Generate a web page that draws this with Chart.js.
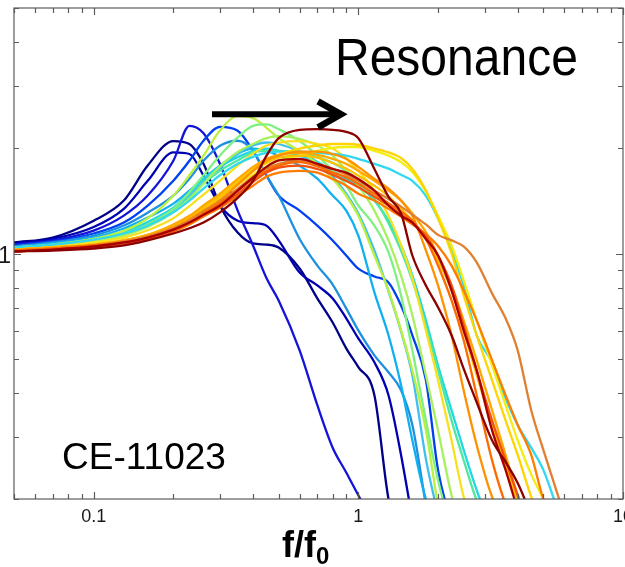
<!DOCTYPE html>
<html>
<head>
<meta charset="utf-8">
<script src="https://cdn.jsdelivr.net/npm/chart.js@4.4.1/dist/chart.umd.min.js"></script>
<style>
  html, body { margin: 0; padding: 0; background: #fff; }
  canvas { display: block; }
</style>
</head>
<body>
<canvas id="chart" width="625" height="567"></canvas>
<script>
// Normalised frequency f/f0 shared by every transfer curve
const freq = [0.05, 0.07, 0.1, 0.13, 0.16, 0.2, 0.23, 0.26, 0.3, 0.35, 0.4, 0.45, 0.5, 0.6, 0.7, 0.8, 0.9, 1.0,
              1.15, 1.3, 1.45, 1.6, 1.8, 2.0, 2.25, 2.5, 2.8, 3.2, 3.6, 4.0, 4.5, 5.0, 6.0];

// Amplitude ratio of each record (null = beyond the end of the record)
const curve01 = [1.075, 1.11, 1.24, 1.415, 1.78, 2.09, 2.05, 1.80, 1.37, 1.147, 1.068, 1.06, 1.04, 0.906, 0.745, 0.636, 0.537, 0.475, 0.395, 0.2, 0.15,
                 null, null, null, null, null, null, null, null, null, null, null, null];
const curve02 = [1.068, 1.10, 1.19, 1.34, 1.61, 1.94, 1.92, 1.666, 1.37, 1.24, 1.22, 1.20, 1.09, 0.883, 0.811, 0.745, 0.654, 0.573, 0.49, 0.395, 0.267, 0.175,
                 null, null, null, null, null, null, null, null, null, null, null];
const curve03 = [1.061, 1.089, 1.162, 1.282, 1.462, 1.837, 2.31, 2.20, 1.80, 1.325, 1.054, 0.85, 0.735, 0.53, 0.37, 0.28, 0.238, 0.205, 0.17,
                 null, null, null, null, null, null, null, null, null, null, null, null, null, null, null];
const curve04 = [1.054, 1.082, 1.14, 1.225, 1.369, 1.612, 1.837, 2.094, 2.295, 2.236, 1.962, 1.666, 1.462, 1.325, 1.201, 1.089, 0.987, 0.906, 0.86, 0.827, 0.711, 0.585, 0.436, 0.242, 0.17,
                 null, null, null, null, null, null, null, null];
const curve05 = [1.047, 1.075, 1.125, 1.201, 1.307, 1.462, 1.633, 1.837, 2.027, 2.094, 1.962, 1.666, 1.462, 1.10, 0.924, 0.816, 0.698, 0.604, 0.513, 0.459, 0.408, 0.325, 0.192,
                 null, null, null, null, null, null, null, null, null, null];
const curve06 = [1.04, 1.068, 1.11, 1.178, 1.265, 1.387, 1.51, 1.633, 1.778, 1.925, 1.99, 1.962, 1.898, 1.778, 1.633, 1.462, 1.325, 1.125, 0.775, 0.585, 0.422, 0.294, 0.2, 0.17,
                 null, null, null, null, null, null, null, null, null];
const curve07 = [1.04, 1.06, 1.10, 1.155, 1.215, 1.325, 1.46, 1.60, 1.75, 1.92, 2.03, 2.07, 2.05, 1.95, 1.82, 1.66, 1.48, 1.30, 1.02, 0.78, 0.60, 0.45, 0.26, 0.18,
                 null, null, null, null, null, null, null, null, null];
const curve08 = [1.04, 1.06, 1.10, 1.16, 1.26, 1.46, 1.67, 1.90, 2.24, 2.46, 2.43, 2.28, 2.13, 1.96, 1.80, 1.63, 1.46, 1.28, 0.987, 0.785, 0.604, 0.465, 0.314, 0.19,
                 null, null, null, null, null, null, null, null, null];
const curve09 = [1.033, 1.054, 1.09, 1.14, 1.21, 1.34, 1.495, 1.67, 1.90, 2.14, 2.31, 2.33, 2.26, 2.09, 1.90, 1.72, 1.56, 1.37, 1.20, 1.007, 0.76, 0.53, 0.335, 0.226, 0.163,
                 null, null, null, null, null, null, null, null];
const curve10 = [1.033, 1.054, 1.082, 1.125, 1.19, 1.31, 1.43, 1.58, 1.77, 1.945, 2.05, 2.13, 2.16, 2.12, 2.03, 1.90, 1.72, 1.56, 1.325, 1.09, 0.866, 0.667, 0.45, 0.314, 0.205, 0.155,
                 null, null, null, null, null, null, null];
const curve11 = [1.026, 1.047, 1.075, 1.11, 1.165, 1.26, 1.365, 1.47, 1.61, 1.78, 1.925, 2.03, 2.07, 2.09, 2.05, 1.99, 1.86, 1.72, 1.51, 1.28, 1.054, 0.85, 0.604, 0.436, 0.294, 0.203, 0.16,
                 null, null, null, null, null, null];
const curve12 = [1.033, 1.054, 1.09, 1.135, 1.20, 1.32, 1.44, 1.58, 1.72, 1.84, 1.94, 1.96, 1.96, 1.94, 1.88, 1.81, 1.72, 1.61, 1.43, 1.22, 1.02, 0.838, 0.624, 0.465, 0.335, 0.258, 0.198, 0.16,
                 null, null, null, null, null];
const curve13 = [1.04, 1.06, 1.10, 1.15, 1.23, 1.35, 1.49, 1.63, 1.77, 1.88, 1.96, 1.99, 1.96, 1.90, 1.82, 1.72, 1.63, 1.56, 1.415, 1.24, 1.054, 0.866, 0.645, 0.48, 0.358, 0.276, 0.212, 0.163,
                 null, null, null, null, null];
const curve14 = [1.02, 1.033, 1.054, 1.082, 1.118, 1.185, 1.25, 1.325, 1.42, 1.57, 1.72, 1.84, 1.90, 1.95, 1.95, 1.92, 1.86, 1.765, 1.63, 1.53, 1.415, 1.28, 1.02, 0.811, 0.585, 0.408, 0.285, 0.203, 0.17,
                 null, null, null, null];
const curve15 = [1.02, 1.033, 1.054, 1.075, 1.11, 1.17, 1.225, 1.30, 1.39, 1.51, 1.63, 1.72, 1.78, 1.82, 1.77, 1.70, 1.65, 1.58, 1.48, 1.39, 1.315, 1.24, 1.10, 0.924, 0.735, 0.566, 0.395, 0.258, 0.193, 0.16,
                 null, null, null];
const curve16 = [1.026, 1.04, 1.06, 1.09, 1.13, 1.21, 1.28, 1.37, 1.48, 1.63, 1.765, 1.86, 1.91, 1.935, 1.91, 1.86, 1.80, 1.72, 1.61, 1.51, 1.415, 1.30, 1.15, 0.987, 0.811, 0.645, 0.497, 0.358, 0.267, 0.205, 0.163,
                 null, null];
const curve17 = [1.013, 1.026, 1.047, 1.075, 1.11, 1.17, 1.225, 1.29, 1.37, 1.51, 1.645, 1.765, 1.84, 1.86, 1.80, 1.74, 1.70, 1.63, 1.51, 1.37, 1.28, 1.225, 1.10, 0.987, 0.785, 0.604, 0.465, 0.314, 0.242, 0.186,
                 null, null, null];
const curve18 = [1.013, 1.02, 1.033, 1.054, 1.09, 1.14, 1.18, 1.225, 1.31, 1.44, 1.61, 1.90, 2.13, 2.25, 2.26, 2.25, 2.22, 2.13, 1.74, 1.45, 1.30, 0.987, 0.811, 0.703, 0.585, 0.47, 0.377, 0.294, 0.255, 0.222, 0.18,
                 null, null];
const curve19 = [1.026, 1.04, 1.06, 1.09, 1.13, 1.20, 1.27, 1.365, 1.47, 1.61, 1.745, 1.84, 1.91, 1.99, 2.03, 2.05, 2.05, 2.04, 1.99, 1.94, 1.87, 1.74, 1.51, 1.26, 1.0, 0.76, 0.585, 0.436, 0.335, 0.267, 0.203, 0.165,
                 null];
const curve20 = [1.013, 1.026, 1.047, 1.068, 1.10, 1.155, 1.21, 1.275, 1.35, 1.46, 1.56, 1.655, 1.70, 1.72, 1.70, 1.63, 1.56, 1.48, 1.415, 1.34, 1.275, 1.21, 1.135, 1.05, 0.924, 0.785, 0.645, 0.497, 0.395, 0.325, 0.267, 0.20, 0.15];
const curve21 = [1.026, 1.04, 1.06, 1.09, 1.13, 1.19, 1.26, 1.34, 1.44, 1.57, 1.68, 1.765, 1.84, 1.90, 1.96, 2.00, 2.01, 2.01, 1.96, 1.90, 1.82, 1.705, 1.50, 1.28, 1.054, 0.838, 0.645, 0.48, 0.37, 0.294, 0.235, 0.20, 0.15];
const curve22 = [1.04, 1.06, 1.095, 1.14, 1.20, 1.31, 1.415, 1.53, 1.67, 1.80, 1.885, 1.935, 1.95, 1.95, 1.935, 1.92, 1.90, 1.86, 1.80, 1.745, 1.675, 1.61, 1.46, 1.26, 1.02, 0.811, 0.585, 0.49, 0.387, 0.325, 0.28, 0.242, 0.163];
const curve23 = [1.02, 1.033, 1.054, 1.082, 1.118, 1.18, 1.24, 1.315, 1.405, 1.53, 1.655, 1.745, 1.80, 1.84, 1.80, 1.745, 1.675, 1.61, 1.51, 1.43, 1.36, 1.29, 1.21, 1.13, 1.09, 1.047, 0.943, 0.77, 0.654, 0.53, 0.358, 0.276, 0.18];
const curve24 = [1.013, 1.026, 1.047, 1.068, 1.10, 1.16, 1.225, 1.29, 1.36, 1.48, 1.60, 1.70, 1.755, 1.78, 1.74, 1.675, 1.61, 1.545, 1.45, 1.37, 1.29, 1.225, 1.12, 0.987, 0.811, 0.624, 0.465, 0.335, 0.258, 0.205, 0.163,
                 null, null];
const curve25 = [1.026, 1.04, 1.06, 1.09, 1.125, 1.19, 1.265, 1.35, 1.45, 1.59, 1.72, 1.81, 1.875, 1.90, 1.875, 1.81, 1.745, 1.666, 1.56, 1.455, 1.34, 1.24, 1.10, 0.955, 0.785, 0.604, 0.45, 0.325, 0.25, 0.198, 0.17,
                 null, null];

// Drawing order: first entry ends up on top
const curves = [curve18, curve17, curve24, curve15, curve20, curve23, curve14, curve16, curve25, curve19, curve21,
                curve22, curve11, curve10, curve09, curve08, curve12, curve13, curve07, curve06, curve05, curve04,
                curve03, curve02, curve01];
const curveColors = ['#8c0000', '#a80000', '#f05010', '#ff6a00', '#ff7c00', '#e08030', '#ff9000', '#ffa800', '#ffc000', '#ffd400', '#f2ee10',
                     '#30d8f0', '#f8e020', '#a8f060', '#80f080', '#bcf040', '#50e8a0', '#20d8e0', '#40c0f0', '#10b0f0', '#1e90e0', '#0040f0',
                     '#1414d8', '#0000b0', '#000088'];

// Axis ticks and labels
const xLabelValues = [0.1, 1, 10];
const yLabelValues = [1];
const yTickValues = [0.2, 0.3, 0.4, 0.5, 0.6, 0.7, 0.8, 0.9, 1, 2, 3, 4, 5];

const xTickValues = [];
for (const decade of [0.01, 0.1, 1]) {
  for (let m = 1; m <= 9; m++) {
    const v = +(m * decade).toPrecision(3);
    if (v >= 0.05) xTickValues.push(v);
  }
}
xTickValues.push(10);

const FONT = '"Liberation Sans", Arial, Helvetica, sans-serif';

const boxAndLabels = {
  id: 'boxAndLabels',
  afterDatasetsDraw(chart) {
    const { ctx, chartArea: a, scales: { x, y } } = chart;
    ctx.save();

    // axes box
    ctx.strokeStyle = '#5c5c5c';
    ctx.lineWidth = 1.2;
    ctx.strokeRect(a.left, a.top, a.right - a.left, a.bottom - a.top);

    // inward ticks on all four sides
    ctx.beginPath();
    for (const v of xTickValues) {
      const px = Math.round(x.getPixelForValue(v)) + 0.5;
      const len = xLabelValues.includes(v) ? 7 : 5;
      ctx.moveTo(px, a.bottom); ctx.lineTo(px, a.bottom - len);
      ctx.moveTo(px, a.top); ctx.lineTo(px, a.top + len);
    }
    for (const v of yTickValues) {
      const py = Math.round(y.getPixelForValue(v)) + 0.5;
      const len = yLabelValues.includes(v) ? 7 : 5;
      ctx.moveTo(a.left, py); ctx.lineTo(a.left + len, py);
      ctx.moveTo(a.right, py); ctx.lineTo(a.right - len, py);
    }
    ctx.stroke();

    // tick labels
    ctx.fillStyle = '#1a1a1a';
    ctx.font = '18px ' + FONT;
    ctx.textAlign = 'center';
    ctx.textBaseline = 'alphabetic';
    for (const v of xLabelValues) {
      ctx.fillText(String(v), x.getPixelForValue(v), a.bottom + 23);
    }
    ctx.font = '23px ' + FONT;
    ctx.textAlign = 'right';
    for (const v of yLabelValues) {
      ctx.fillText(String(v), a.left - 3, y.getPixelForValue(v) + 9);
    }

    // axis title f/f0
    ctx.fillStyle = '#000';
    ctx.textAlign = 'left';
    ctx.font = 'bold 36px ' + FONT;
    const tx = 282, ty = 557;
    ctx.fillText('f/f', tx, ty);
    const w = ctx.measureText('f/f').width;
    ctx.font = 'bold 24px ' + FONT;
    ctx.fillText('0', tx + w, ty + 7);

    // annotations
    ctx.save();
    ctx.translate(335, 75);
    ctx.scale(1, 1.08);
    ctx.font = '48px ' + FONT;
    ctx.fillText('Resonance', 0, 0);
    ctx.restore();
    ctx.font = '37px ' + FONT;
    ctx.fillText('CE-11023', 62, 469);

    // shift arrow
    const ax0 = x.getPixelForValue(0.28), ax1 = x.getPixelForValue(0.86);
    const ay = y.getPixelForValue(2.49);
    ctx.strokeStyle = '#000';
    ctx.lineWidth = 6;
    ctx.lineCap = 'butt';
    ctx.beginPath();
    ctx.moveTo(ax0, ay); ctx.lineTo(ax1 - 4, ay);
    ctx.stroke();
    ctx.lineWidth = 6.5;
    ctx.lineJoin = 'miter';
    ctx.beginPath();
    ctx.moveTo(ax1 - 23, ay - 13);
    ctx.lineTo(ax1, ay);
    ctx.lineTo(ax1 - 23, ay + 13);
    ctx.stroke();

    ctx.restore();
  }
};

new Chart(document.getElementById('chart'), {
  type: 'line',
  data: {
    datasets: curves.map((vals, i) => ({
      data: freq.map((f, j) => ({ x: f, y: vals[j] })),
      borderColor: curveColors[i],
      backgroundColor: curveColors[i],
      borderWidth: 2.3,
      pointRadius: 0,
      fill: false,
      spanGaps: false,
      cubicInterpolationMode: 'monotone'
    }))
  },
  options: {
    responsive: false,
    animation: false,
    layout: { padding: { left: 14, right: 2, top: 8, bottom: 68 } },
    scales: {
      x: { type: 'logarithmic', min: 0.05, max: 10, display: false },
      y: { type: 'logarithmic', min: 0.2, max: 5, display: false }
    },
    plugins: { legend: { display: false }, tooltip: { enabled: false } }
  },
  plugins: [boxAndLabels]
});
</script>
</body>
</html>
